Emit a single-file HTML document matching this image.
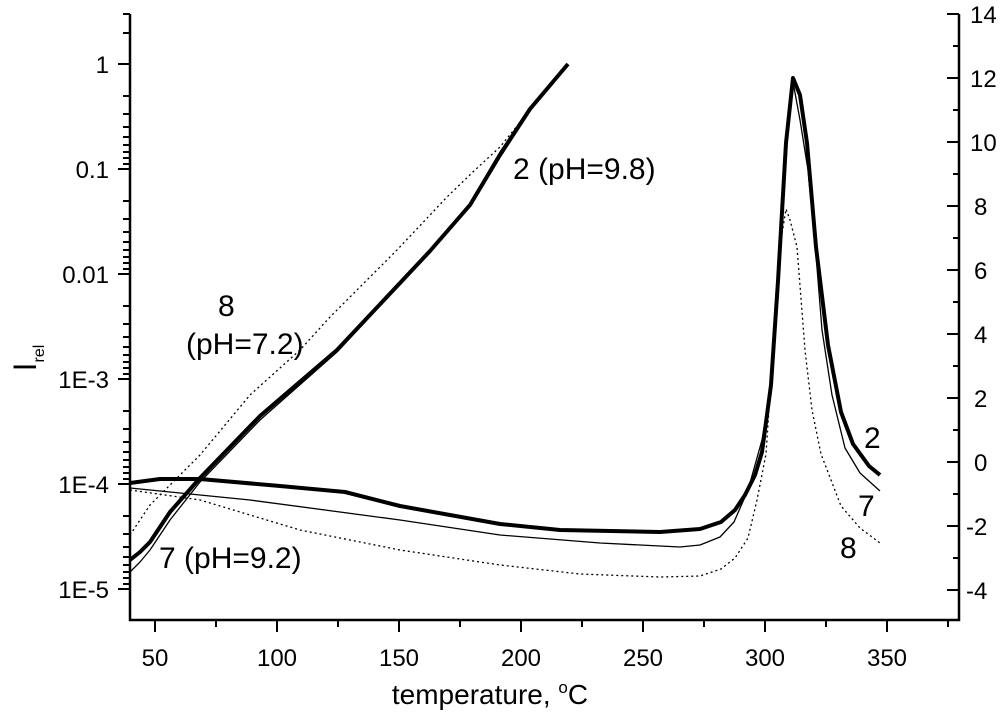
<!DOCTYPE html>
<html><head><meta charset="utf-8"><style>
html,body{margin:0;padding:0;background:#fff;}
svg{display:block;font-family:"Liberation Sans",Arial,sans-serif;}
</style></head><body>
<svg width="1000" height="724" viewBox="0 0 1000 724" xmlns="http://www.w3.org/2000/svg">
<g stroke="#000" stroke-width="2.5" fill="none">
<polyline points="130,14 130,620 959,620 959,14"/>
</g>
<g stroke="#000" stroke-width="2" fill="none">
<path d="M155,620v12M277,620v12M399,620v12M521,620v12M643,620v12M765,620v12M887,620v12"/>
<path d="M216,620v7M338,620v7M460,620v7M582,620v7M704,620v7M826,620v7M948,620v7"/>
<path d="M118,64h12M118,169h12M118,274h12M118,379h12M118,484h12M118,589h12"/>
<path d="M123,33h7M123,14h7
M123,96h7M123,114h7M123,127h7M123,137h7M123,145h7M123,152h7M123,158h7M123,164h7
M123,201h7M123,219h7M123,232h7M123,242h7M123,250h7M123,257h7M123,263h7M123,269h7
M123,306h7M123,324h7M123,337h7M123,347h7M123,355h7M123,362h7M123,368h7M123,374h7
M123,411h7M123,429h7M123,442h7M123,452h7M123,460h7M123,467h7M123,473h7M123,479h7
M123,516h7M123,534h7M123,547h7M123,557h7M123,565h7M123,572h7M123,578h7M123,584h7"/>
<path d="M947,14h12M947,78h12M947,142h12M947,206h12M947,270h12M947,334h12M947,398h12M947,462h12M947,526h12M947,590h12"/>
<path d="M953,46h6M953,110h6M953,174h6M953,238h6M953,302h6M953,366h6M953,430h6M953,494h6M953,558h6"/>
</g>
<g font-size="24" fill="#000">
<g text-anchor="middle">
<text x="155" y="666">50</text><text x="277" y="666">100</text><text x="399" y="666">150</text>
<text x="521" y="666">200</text><text x="643" y="666">250</text><text x="765" y="666">300</text><text x="887" y="666">350</text>
</g>
<g text-anchor="end">
<text x="109" y="73">1</text><text x="109" y="178">0.1</text><text x="109" y="283">0.01</text>
<text x="109" y="388">1E-3</text><text x="109" y="493">1E-4</text><text x="109" y="598">1E-5</text>
</g>
<g text-anchor="start">
<text x="970" y="23">14</text><text x="970" y="87">12</text><text x="970" y="151">10</text>
<text x="974" y="215">8</text><text x="974" y="279">6</text><text x="974" y="343">4</text>
<text x="974" y="407">2</text><text x="974" y="471">0</text><text x="966" y="535">-2</text><text x="966" y="599">-4</text>
</g>
</g>
<text x="490" y="704" font-size="28" text-anchor="middle">temperature, <tspan font-size="17" dy="-11">o</tspan><tspan dy="11">C</tspan></text>
<g transform="translate(36,358) rotate(-90)"><text font-size="32" text-anchor="middle">I<tspan font-size="16" dy="8">rel</tspan></text></g>

<g fill="none" stroke="#000" stroke-linejoin="round">
<polyline stroke-width="1.3" stroke-dasharray="2,3" points="130,535 150,505 175,480 200,455 250,395 300,350 330,317 397,250 447,197 475,170 500,147 530,110 545,93"/>
<polyline stroke-width="1.3" points="130,572 140,562 150,550 170,520 200,482 260,420 337,352 400,284 430,251 470,203 500,152 530,107 568,65"/>
<polyline stroke-width="4" points="130,560 140,552 150,542 170,512 200,478 260,416 337,350 400,283 430,251 470,205 500,155 530,109 568,64"/>
<polyline stroke-width="1.3" stroke-dasharray="2,3" points="130,490 200,500 300,530 400,550 500,565 580,574 660,577 700,576 721,569 735,558 748,538 757,500 766,454 775,320 781,240 786,209 790,220 797,247 805,350 812,410 821,454 841,506 860,528 880,543"/>
<polyline stroke-width="1.3" points="130,488 250,500 400,520 500,535 600,543 680,547 700,545 720,537 734,522 748,490 762,440 771,385 778,281 786,143 793,82 800,120 808,170 816,255 822,330 832,395 845,448 860,473 880,491"/>
<polyline stroke-width="4" points="130,483 160,479 200,479 280,486 345,492 400,506 500,524 560,530 660,532 700,529 721,522 735,510 745,495 755,475 762,452 771,385 778,281 786,143 793,78 800,95 807,143 816,247 828,345 841,412 853,444 869,466 880,475"/>
</g>
<g font-size="30" fill="#000">
<text x="513" y="179">2 (pH=9.8)</text>
<text x="218" y="316">8</text>
<text x="186" y="354">(pH=7.2)</text>
<text x="159" y="568">7 (pH=9.2)</text>
<text x="864" y="448">2</text>
<text x="858" y="516">7</text>
<text x="840" y="558">8</text>
</g>
</svg>
</body></html>
